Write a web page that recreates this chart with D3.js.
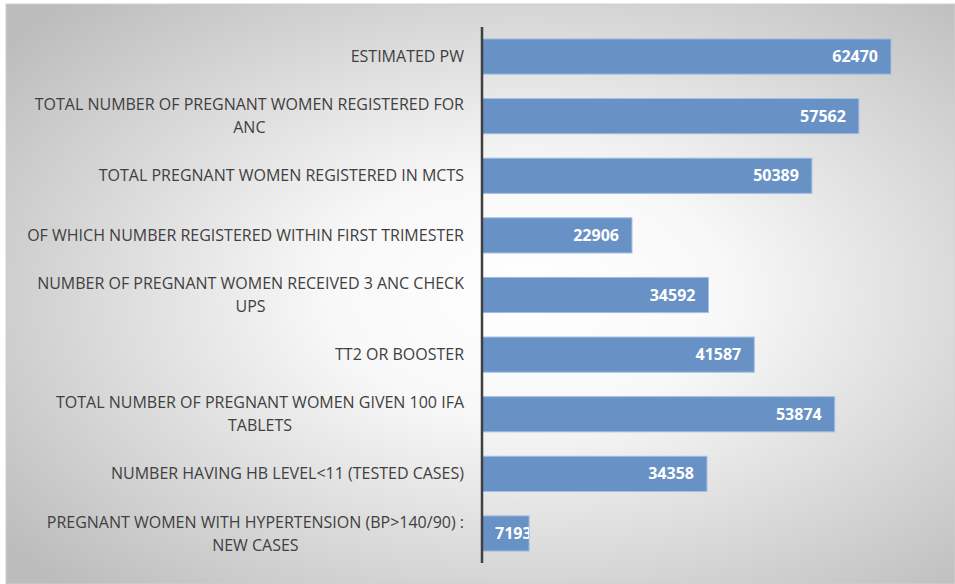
<html>
<head>
<meta charset="utf-8">
<script src="https://d3js.org/d3.v7.min.js"></script>
<style>
  body { margin: 0; background: #fff; }
</style>
</head>
<body>
<div id="chart"></div>
<script>
// data
var categories = [
  "ESTIMATED PW",
  "TOTAL NUMBER OF PREGNANT WOMEN REGISTERED FOR ANC",
  "TOTAL PREGNANT WOMEN REGISTERED IN MCTS",
  "OF WHICH NUMBER REGISTERED WITHIN FIRST TRIMESTER",
  "NUMBER OF PREGNANT WOMEN RECEIVED 3 ANC CHECK UPS",
  "TT2 OR BOOSTER",
  "TOTAL NUMBER OF PREGNANT WOMEN GIVEN 100 IFA TABLETS",
  "NUMBER HAVING HB LEVEL<11 (TESTED CASES)",
  "PREGNANT WOMEN WITH HYPERTENSION (BP>140/90) : NEW CASES"
]
var values = [62470, 57562, 50389, 22906, 34592, 41587, 53874, 34358, 7193]

var width = 955, height = 584
var axisX = 482, plotTop = 27, plotBottom = 563
var labelRight = 464, wrapWidth = 450

var svg = d3.select("#chart").append("svg")
  .attr("width", width).attr("height", height)

var defs = svg.append("defs")
var grad = defs.append("radialGradient").attr("id", "bg")
  .attr("cx", "55%").attr("cy", "50%").attr("r", "70%")
grad.append("stop").attr("offset", "0%").attr("stop-color", "#ffffff")
grad.append("stop").attr("offset", "30%").attr("stop-color", "#f8f8f8")
grad.append("stop").attr("offset", "100%").attr("stop-color", "#bcbcbc")

svg.append("rect")
  .attr("x", 6).attr("y", 4)
  .attr("width", width - 6).attr("height", height - 4)
  .attr("fill", "url(#bg)")
  .attr("stroke", "#d0d0d0").attr("stroke-width", 1)

var x = d3.scaleLinear().domain([0, 62470]).range([axisX, 891])
var y = d3.scaleBand().domain(categories).range([plotTop, plotBottom])
  .paddingInner(0.41).paddingOuter(0.2)

var data = categories.map(function(c, i) { return { cat: c, value: values[i] } })

// bars
svg.selectAll(".bar").data(data).enter().append("rect")
  .attr("class", "bar")
  .attr("x", x(0))
  .attr("y", function(d) { return y(d.cat) })
  .attr("width", function(d) { return x(d.value) - x(0) })
  .attr("height", y.bandwidth())
  .attr("fill", "#6891c6")
  .attr("stroke", "#a3bfe2").attr("stroke-width", 1)

// clip per bar so short labels are cut at the bar end
data.forEach(function(d, i) {
  defs.append("clipPath").attr("id", "clip" + i).append("rect")
    .attr("x", x(0)).attr("y", y(d.cat))
    .attr("width", x(d.value) - x(0)).attr("height", y.bandwidth())
})

svg.selectAll(".val").data(data).enter().append("text")
  .attr("class", "val")
  .attr("clip-path", function(d, i) { return "url(#clip" + i + ")" })
  .attr("y", function(d) { return y(d.cat) + y.bandwidth() / 2 })
  .attr("dy", "0.35em")
  .attr("fill", "#ffffff")
  .style("font-family", "'Open Sans', sans-serif")
  .style("font-weight", "bold")
  .style("font-size", "16px")
  .text(function(d) { return d.value })
  .each(function(d) {
    var w = this.getComputedTextLength()
    var endX = Math.max(x(d.value) - 13, x(0) + 13 + w)
    d3.select(this).attr("x", endX).attr("text-anchor", "end")
  })

// category labels, wrapped and centred as a block ending at labelRight
var labels = svg.selectAll(".lab").data(data).enter().append("text")
  .attr("class", "lab")
  .attr("fill", "#404040")
  .style("font-family", "'Open Sans', sans-serif")
  .style("font-size", "16px")

labels.each(function(d) {
  var t = d3.select(this)
  var words = d.cat.split(" "), lines = [], line = []
  var probe = t.append("tspan")
  words.forEach(function(w) {
    line.push(w)
    probe.text(line.join(" "))
    if (probe.node().getComputedTextLength() > wrapWidth && line.length > 1) {
      line.pop()
      lines.push(line.join(" "))
      line = [w]
    }
  })
  lines.push(line.join(" "))
  probe.remove()
  var widths = lines.map(function(l) {
    var s = t.append("tspan").text(l)
    var w = s.node().getComputedTextLength()
    s.remove()
    return w
  })
  var blockW = d3.max(widths)
  var cx = labelRight - blockW / 2
  var cy = y(d.cat) + y.bandwidth() / 2
  var lh = 23
  lines.forEach(function(l, k) {
    t.append("tspan")
      .attr("x", cx)
      .attr("y", cy + (k - (lines.length - 1) / 2) * lh)
      .attr("dy", "0.35em")
      .attr("text-anchor", "middle")
      .text(l)
  })
})

// axis line
svg.append("line")
  .attr("x1", axisX).attr("x2", axisX)
  .attr("y1", plotTop).attr("y2", plotBottom)
  .attr("stroke", "#404040").attr("stroke-width", 2.5)
</script>
</body>
</html>
